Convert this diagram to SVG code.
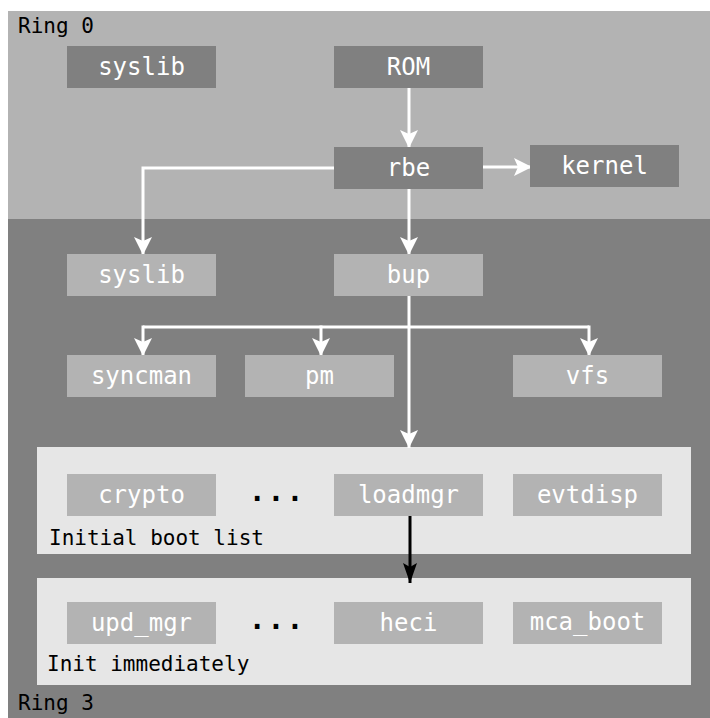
<svg xmlns="http://www.w3.org/2000/svg" width="710" height="718" viewBox="0 0 710 718">
  <defs>
    <style>
      .lbl { font-family: "DejaVu Sans Mono", "Liberation Mono", monospace; font-size: 21px; fill: #000000; }
      .ntx { font-family: "DejaVu Sans Mono", "Liberation Mono", monospace; font-size: 24px; fill: #ffffff; text-anchor: middle; }
      .dots { font-family: "DejaVu Sans Mono", "Liberation Mono", monospace; font-size: 28px; font-weight: bold; fill: #000000; text-anchor: middle; letter-spacing: 2px; }
      .dk { fill: #808080; }
      .lt { fill: #b3b3b3; }
      .list { fill: #e6e6e6; }
      .wl { stroke: #ffffff; stroke-width: 3; fill: none; }
      .bl { stroke: #000000; stroke-width: 3; fill: none; }
    </style>
    <marker id="wa" markerUnits="userSpaceOnUse" markerWidth="18" markerHeight="18" refX="18" refY="9" orient="auto">
      <path d="M0,0 L18,9 L0,18 L4,9 Z" fill="#ffffff"/>
    </marker>
    <marker id="ba" markerUnits="userSpaceOnUse" markerWidth="20" markerHeight="14" refX="20" refY="7" orient="auto">
      <path d="M0,0 L20,7 L0,14 L4,7 Z" fill="#000000"/>
    </marker>
  </defs>

  <rect width="710" height="718" fill="#ffffff"/>
  <g id="ring0">
    <rect x="8" y="11" width="702" height="208" fill="#b3b3b3"/>
    <text class="lbl" x="18" y="33">Ring 0</text>
  </g>
  <g id="ring3">
    <rect x="8" y="219" width="702" height="499" fill="#808080"/>
    <text class="lbl" x="18" y="710">Ring 3</text>
  </g>

  <g id="initial-boot-list">
    <rect class="list" x="37" y="447" width="654" height="107"/>
    <text class="lbl" x="49" y="545">Initial boot list</text>
  </g>
  <g id="init-immediately">
    <rect class="list" x="37" y="578" width="654" height="107"/>
    <text class="lbl" x="47" y="671">Init immediately</text>
  </g>

  <g id="connectors">
    <line class="wl" x1="409" y1="88" x2="409" y2="148" marker-end="url(#wa)"/>
    <line class="wl" x1="483" y1="167" x2="532" y2="167" marker-end="url(#wa)"/>
    <line class="wl" x1="409" y1="189" x2="409" y2="255" marker-end="url(#wa)"/>
    <polyline class="wl" points="335,168 143,168 143,255" marker-end="url(#wa)"/>
    <line class="wl" x1="409" y1="296" x2="409" y2="448" marker-end="url(#wa)"/>
    <line class="wl" x1="143" y1="327" x2="589" y2="327"/>
    <line class="wl" x1="143" y1="325.5" x2="143" y2="356" marker-end="url(#wa)"/>
    <line class="wl" x1="321" y1="325.5" x2="321" y2="356" marker-end="url(#wa)"/>
    <line class="wl" x1="589" y1="325.5" x2="589" y2="356" marker-end="url(#wa)"/>
    <line class="bl" x1="410" y1="516" x2="410" y2="583" marker-end="url(#ba)"/>
  </g>

  <g id="syslib-r0"><rect class="dk" x="67" y="46" width="149" height="42"/><text class="ntx" x="141.5" y="75">syslib</text></g>
  <g id="rom"><rect class="dk" x="334" y="46" width="149" height="42"/><text class="ntx" x="408.5" y="75">ROM</text></g>
  <g id="rbe"><rect class="dk" x="334" y="147" width="149" height="42"/><text class="ntx" x="408.5" y="176">rbe</text></g>
  <g id="kernel"><rect class="dk" x="530" y="145" width="149" height="42"/><text class="ntx" x="604.5" y="174">kernel</text></g>

  <g id="syslib-r3"><rect class="lt" x="67" y="254" width="149" height="42"/><text class="ntx" x="141.5" y="283">syslib</text></g>
  <g id="bup"><rect class="lt" x="334" y="254" width="149" height="42"/><text class="ntx" x="408.5" y="283">bup</text></g>

  <g id="syncman"><rect class="lt" x="67" y="355" width="149" height="42"/><text class="ntx" x="141.5" y="384">syncman</text></g>
  <g id="pm"><rect class="lt" x="245" y="355" width="149" height="42"/><text class="ntx" x="319.5" y="384">pm</text></g>
  <g id="vfs"><rect class="lt" x="513" y="355" width="149" height="42"/><text class="ntx" x="587.5" y="384">vfs</text></g>

  <g id="crypto"><rect class="lt" x="67" y="474" width="149" height="42"/><text class="ntx" x="141.5" y="503">crypto</text></g>
  <g id="dots1"><text class="dots" x="277" y="501" font-size="26">...</text></g>
  <g id="loadmgr"><rect class="lt" x="334" y="474" width="149" height="42"/><text class="ntx" x="408.5" y="503">loadmgr</text></g>
  <g id="evtdisp"><rect class="lt" x="513" y="474" width="149" height="42"/><text class="ntx" x="587.5" y="503">evtdisp</text></g>

  <g id="upd_mgr"><rect class="lt" x="67" y="602" width="149" height="42"/><text class="ntx" x="141.5" y="631">upd_mgr</text></g>
  <g id="dots2"><text class="dots" x="277" y="629">...</text></g>
  <g id="heci"><rect class="lt" x="334" y="602" width="149" height="42"/><text class="ntx" x="408.5" y="631">heci</text></g>
  <g id="mca_boot"><rect class="lt" x="513" y="602" width="149" height="42"/><text class="ntx" x="587.5" y="630">mca_boot</text></g>
</svg>
